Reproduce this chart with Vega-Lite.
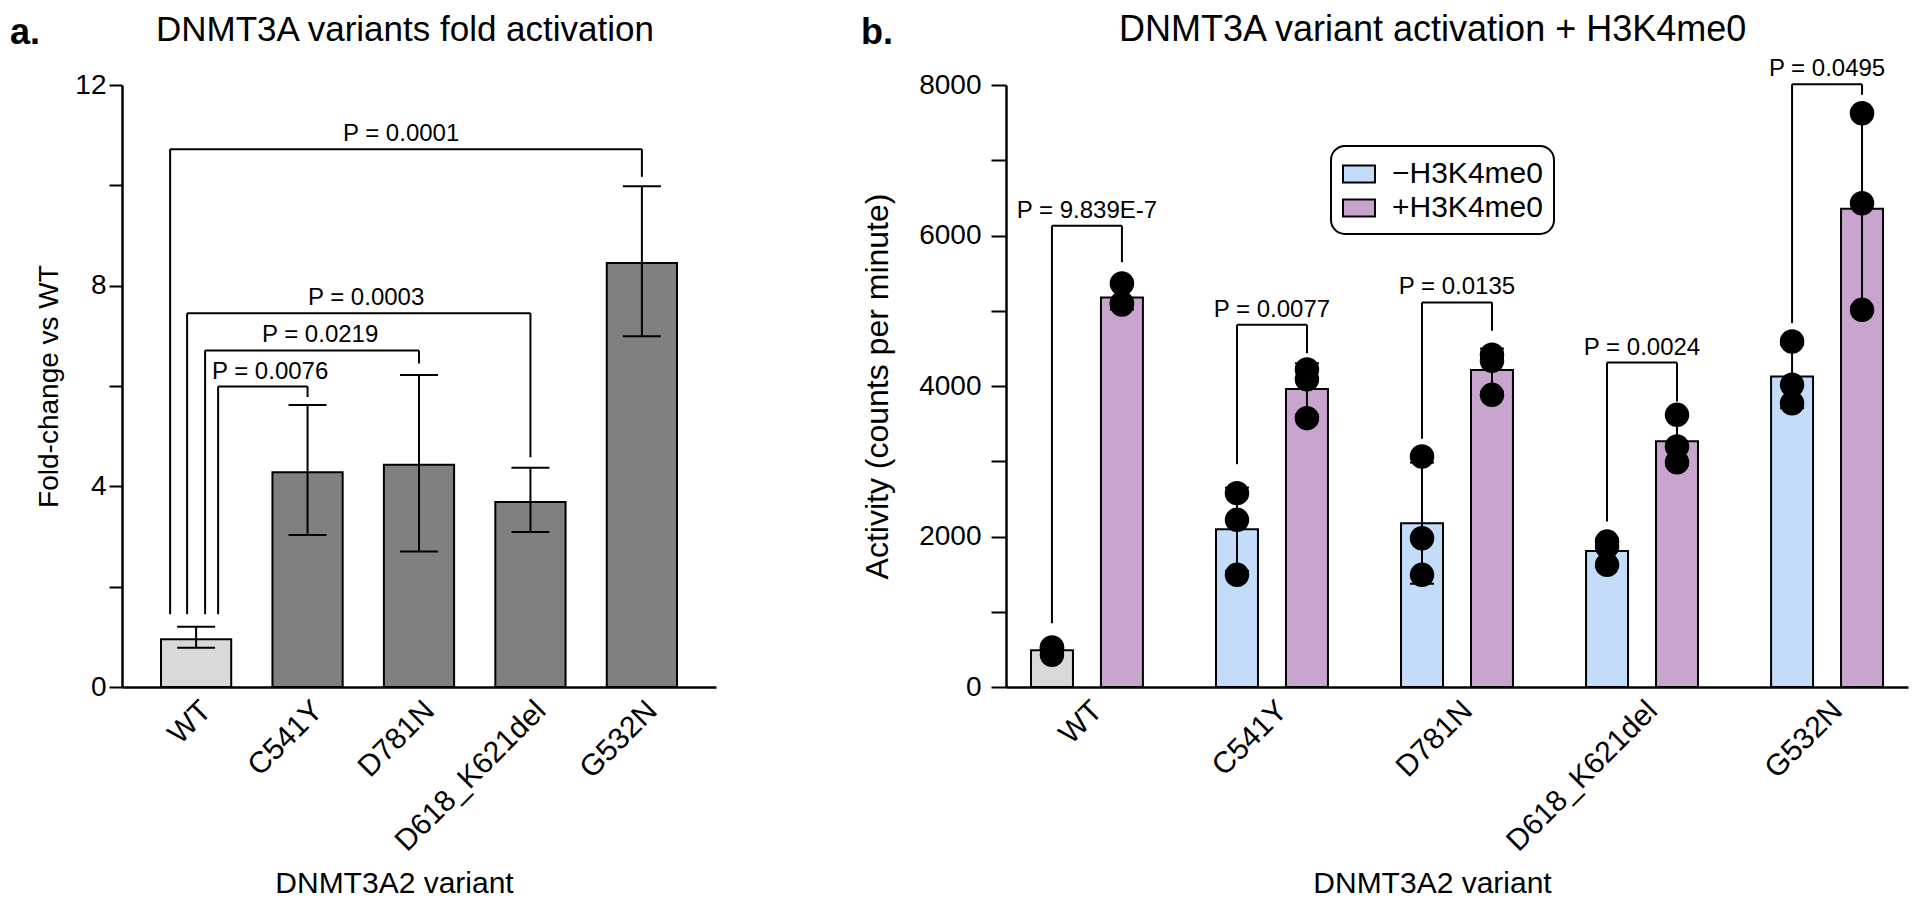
{
  "$schema": "https://vega.github.io/schema/vega-lite/v6.json",
  "background": "white",
  "padding": {"left": 9, "top": 12, "right": 5, "bottom": 0},
  "autosize": {"type": "pad"},
  "spacing": 144,
  "config": {
    "font": "Liberation Sans",
    "view": {"stroke": null},
    "axis": {"domainColor": "black", "domainWidth": 2.5, "tickColor": "black", "tickWidth": 2, "labelColor": "black", "titleColor": "black", "grid": false, "labelFont": "Liberation Sans", "titleFont": "Liberation Sans", "titleFontWeight": "normal"},
    "legend": {"strokeWidth": 2, "titleLimit": 2000},
    "text": {"font": "Liberation Sans"}
  },
  "resolve": {"scale": {"fill": "independent", "color": "independent", "stroke": "independent", "opacity": "independent"}},
  "datasets": {
    "a_bars": [
      {"variant": "WT", "mean": 0.95, "lo": 0.78, "hi": 1.2, "grp": "WT"},
      {"variant": "C541Y", "mean": 4.28, "lo": 3.03, "hi": 5.62, "grp": "variant"},
      {"variant": "D781N", "mean": 4.43, "lo": 2.7, "hi": 6.22, "grp": "variant"},
      {"variant": "D618_K621del", "mean": 3.69, "lo": 3.09, "hi": 4.37, "grp": "variant"},
      {"variant": "G532N", "mean": 8.45, "lo": 6.99, "hi": 9.98, "grp": "variant"}
    ],
    "a_brackets": [
      {"id": 1, "from": "WT", "to": "G532N", "top": 10.72, "left_low": 1.45, "right_low": 10.17, "label": "P = 0.0001"},
      {"id": 2, "from": "WT", "to": "D618_K621del", "top": 7.45, "left_low": 1.45, "right_low": 4.58, "label": "P = 0.0003"},
      {"id": 3, "from": "WT", "to": "D781N", "top": 6.71, "left_low": 1.45, "right_low": 6.45, "label": "P = 0.0219"},
      {"id": 4, "from": "WT", "to": "C541Y", "top": 5.99, "left_low": 1.45, "right_low": 5.78, "label": "P = 0.0076"}
    ],
    "b_bars": [
      {"variant": "WT", "cond": "−", "series": "WT", "mean": 490, "lo": 436, "hi": 544},
      {"variant": "WT", "cond": "+", "series": "+H3K4me0", "mean": 5176, "lo": 5015, "hi": 5337},
      {"variant": "C541Y", "cond": "−", "series": "−H3K4me0", "mean": 2096, "lo": 1543, "hi": 2649},
      {"variant": "C541Y", "cond": "+", "series": "+H3K4me0", "mean": 3960, "lo": 3618, "hi": 4302},
      {"variant": "D781N", "cond": "−", "series": "−H3K4me0", "mean": 2177, "lo": 1372, "hi": 2982},
      {"variant": "D781N", "cond": "+", "series": "+H3K4me0", "mean": 4211, "lo": 3924, "hi": 4498},
      {"variant": "D618_K621del", "cond": "−", "series": "−H3K4me0", "mean": 1808, "lo": 1645, "hi": 1971},
      {"variant": "D618_K621del", "cond": "+", "series": "+H3K4me0", "mean": 3267, "lo": 2946, "hi": 3588},
      {"variant": "G532N", "cond": "−", "series": "−H3K4me0", "mean": 4126, "lo": 3705, "hi": 4547},
      {"variant": "G532N", "cond": "+", "series": "+H3K4me0", "mean": 6355, "lo": 5047, "hi": 7663}
    ],
    "b_points": [
      {"variant": "WT", "cond": "−", "value": 428},
      {"variant": "WT", "cond": "−", "value": 516},
      {"variant": "WT", "cond": "−", "value": 525},
      {"variant": "WT", "cond": "+", "value": 5362},
      {"variant": "WT", "cond": "+", "value": 5083},
      {"variant": "WT", "cond": "+", "value": 5100},
      {"variant": "C541Y", "cond": "−", "value": 2576},
      {"variant": "C541Y", "cond": "−", "value": 2222},
      {"variant": "C541Y", "cond": "−", "value": 1491},
      {"variant": "C541Y", "cond": "+", "value": 4219},
      {"variant": "C541Y", "cond": "+", "value": 4090},
      {"variant": "C541Y", "cond": "+", "value": 3572},
      {"variant": "D781N", "cond": "−", "value": 3063},
      {"variant": "D781N", "cond": "−", "value": 1977},
      {"variant": "D781N", "cond": "−", "value": 1491},
      {"variant": "D781N", "cond": "+", "value": 4415},
      {"variant": "D781N", "cond": "+", "value": 4335},
      {"variant": "D781N", "cond": "+", "value": 3883},
      {"variant": "D618_K621del", "cond": "−", "value": 1933},
      {"variant": "D618_K621del", "cond": "−", "value": 1867},
      {"variant": "D618_K621del", "cond": "−", "value": 1624},
      {"variant": "D618_K621del", "cond": "+", "value": 3617},
      {"variant": "D618_K621del", "cond": "+", "value": 3196},
      {"variant": "D618_K621del", "cond": "+", "value": 2987},
      {"variant": "G532N", "cond": "−", "value": 4591},
      {"variant": "G532N", "cond": "−", "value": 4016},
      {"variant": "G532N", "cond": "−", "value": 3771},
      {"variant": "G532N", "cond": "+", "value": 7625},
      {"variant": "G532N", "cond": "+", "value": 6429},
      {"variant": "G532N", "cond": "+", "value": 5012}
    ],
    "b_brackets": [
      {"variant": "WT", "top": 6130, "left_low": 848, "right_low": 5645, "label": "P = 9.839E-7"},
      {"variant": "C541Y", "top": 4813, "left_low": 2961, "right_low": 4436, "label": "P = 0.0077"},
      {"variant": "D781N", "top": 5110, "left_low": 3300, "right_low": 4734, "label": "P = 0.0135"},
      {"variant": "D618_K621del", "top": 4312, "left_low": 2199, "right_low": 3794, "label": "P = 0.0024"},
      {"variant": "G532N", "top": 8010, "left_low": 4835, "right_low": 7870, "label": "P = 0.0495"}
    ]
  },
  "hconcat": [
    {
      "width": 594,
      "height": 602,
      "layer": [
        {
          "data": {"name": "a_bars"},
          "mark": {"type": "bar", "stroke": "black", "strokeWidth": 2},
          "encoding": {
            "x": {"field": "variant", "type": "nominal", "sort": null,
              "scale": {"domain": ["WT", "C541Y", "D781N", "D618_K621del", "G532N"], "paddingInner": 0.37, "paddingOuter": 0.35},
              "axis": {"title": "DNMT3A2 variant", "titleFontSize": 30, "titlePadding": 12, "titleX": 272, "labelAngle": -45, "labelFontSize": 30, "labelLimit": 0, "ticks": false, "labelPadding": 8}},
            "y": {"field": "mean", "type": "quantitative",
              "scale": {"domain": [0, 12], "nice": false},
              "axis": {"title": "Fold-change vs WT", "titleFontSize": 28, "titlePadding": 11, "labelFontSize": 28, "tickSize": 13, "labelPadding": 3, "values": [0, 2, 4, 6, 8, 10, 12], "labelExpr": "datum.value % 4 === 0 ? datum.label : ''"}},
            "fill": {"field": "grp", "type": "nominal", "scale": {"domain": ["WT", "variant"], "range": ["#d9d9d9", "#808080"]}, "legend": null},
            "stroke": {"datum": "a", "type": "nominal", "scale": {"domain": ["a"], "range": ["black"]},
              "legend": {"title": "a.", "orient": "none", "legendX": -112, "legendY": -69, "titleFontSize": 36, "titleFontWeight": "bold", "titleFont": "Liberation Sans", "titleColor": "black", "titleBaseline": "top", "titlePadding": 0, "padding": 0, "symbolType": "circle", "symbolOpacity": 0, "symbolStrokeWidth": 0, "symbolSize": 0, "symbolFillColor": "transparent", "symbolStrokeColor": "transparent", "labelOpacity": 0, "labelExpr": "''", "labelFontSize": 10, "strokeColor": "transparent", "fillColor": "transparent"}},
            "opacity": {"datum": "t", "type": "nominal", "scale": {"domain": ["t"], "range": [1]},
              "legend": {"title": "DNMT3A variants fold activation", "orient": "none", "legendX": 34, "legendY": -72, "titleFontSize": 35, "titleFontWeight": "normal", "titleFont": "Liberation Sans", "titleColor": "black", "titleBaseline": "top", "titlePadding": 0, "padding": 0, "symbolType": "circle", "symbolOpacity": 0, "symbolStrokeWidth": 0, "symbolSize": 0, "symbolFillColor": "transparent", "symbolStrokeColor": "transparent", "labelOpacity": 0, "labelExpr": "''", "labelFontSize": 10, "strokeColor": "transparent", "fillColor": "transparent"}}
          }
        },
        {
          "data": {"name": "a_bars"},
          "mark": {"type": "rule", "color": "black", "strokeWidth": 2},
          "encoding": {
            "x": {"field": "variant", "type": "nominal", "sort": null},
            "y": {"field": "lo", "type": "quantitative"},
            "y2": {"field": "hi"}
          }
        },
        {
          "data": {"name": "a_bars"},
          "mark": {"type": "tick", "color": "black", "size": 38, "thickness": 2, "opacity": 1},
          "encoding": {
            "x": {"field": "variant", "type": "nominal", "sort": null},
            "y": {"field": "lo", "type": "quantitative"}
          }
        },
        {
          "data": {"name": "a_bars"},
          "mark": {"type": "tick", "color": "black", "size": 38, "thickness": 2, "opacity": 1},
          "encoding": {
            "x": {"field": "variant", "type": "nominal", "sort": null},
            "y": {"field": "hi", "type": "quantitative"}
          }
        },
        {
          "data": {"name": "a_brackets"},
          "transform": [{"filter": "datum.id === 1"}],
          "layer": [
            {"mark": {"type": "rule", "color": "black", "strokeWidth": 2, "xOffset": -26},
             "encoding": {"x": {"field": "from", "type": "nominal", "bandPosition": 0.5}, "x2": {"field": "to", "bandPosition": 0.5}, "y": {"field": "top", "type": "quantitative"}}},
            {"mark": {"type": "rule", "color": "black", "strokeWidth": 2, "xOffset": -26},
             "encoding": {"x": {"field": "from", "type": "nominal", "bandPosition": 0.5}, "y": {"field": "left_low", "type": "quantitative"}, "y2": {"field": "top"}}},
            {"mark": {"type": "rule", "color": "black", "strokeWidth": 2},
             "encoding": {"x": {"field": "to", "type": "nominal", "bandPosition": 0.5}, "y": {"field": "right_low", "type": "quantitative"}, "y2": {"field": "top"}}},
            {"mark": {"type": "text", "fontSize": 24, "baseline": "alphabetic", "align": "center", "dy": -8, "dx": 205, "color": "black"},
             "encoding": {"x": {"field": "from", "type": "nominal", "bandPosition": 0.5}, "y": {"field": "top", "type": "quantitative"}, "text": {"field": "label"}}}
          ]
        },
        {
          "data": {"name": "a_brackets"},
          "transform": [{"filter": "datum.id === 2"}],
          "layer": [
            {"mark": {"type": "rule", "color": "black", "strokeWidth": 2, "xOffset": -9},
             "encoding": {"x": {"field": "from", "type": "nominal", "bandPosition": 0.5}, "x2": {"field": "to", "bandPosition": 0.5}, "y": {"field": "top", "type": "quantitative"}}},
            {"mark": {"type": "rule", "color": "black", "strokeWidth": 2, "xOffset": -9},
             "encoding": {"x": {"field": "from", "type": "nominal", "bandPosition": 0.5}, "y": {"field": "left_low", "type": "quantitative"}, "y2": {"field": "top"}}},
            {"mark": {"type": "rule", "color": "black", "strokeWidth": 2},
             "encoding": {"x": {"field": "to", "type": "nominal", "bandPosition": 0.5}, "y": {"field": "right_low", "type": "quantitative"}, "y2": {"field": "top"}}},
            {"mark": {"type": "text", "fontSize": 24, "baseline": "alphabetic", "align": "center", "dy": -8, "dx": 170, "color": "black"},
             "encoding": {"x": {"field": "from", "type": "nominal", "bandPosition": 0.5}, "y": {"field": "top", "type": "quantitative"}, "text": {"field": "label"}}}
          ]
        },
        {
          "data": {"name": "a_brackets"},
          "transform": [{"filter": "datum.id === 3"}],
          "layer": [
            {"mark": {"type": "rule", "color": "black", "strokeWidth": 2, "xOffset": 9},
             "encoding": {"x": {"field": "from", "type": "nominal", "bandPosition": 0.5}, "x2": {"field": "to", "bandPosition": 0.5}, "y": {"field": "top", "type": "quantitative"}}},
            {"mark": {"type": "rule", "color": "black", "strokeWidth": 2, "xOffset": 9},
             "encoding": {"x": {"field": "from", "type": "nominal", "bandPosition": 0.5}, "y": {"field": "left_low", "type": "quantitative"}, "y2": {"field": "top"}}},
            {"mark": {"type": "rule", "color": "black", "strokeWidth": 2},
             "encoding": {"x": {"field": "to", "type": "nominal", "bandPosition": 0.5}, "y": {"field": "right_low", "type": "quantitative"}, "y2": {"field": "top"}}},
            {"mark": {"type": "text", "fontSize": 24, "baseline": "alphabetic", "align": "center", "dy": -8, "dx": 124, "color": "black"},
             "encoding": {"x": {"field": "from", "type": "nominal", "bandPosition": 0.5}, "y": {"field": "top", "type": "quantitative"}, "text": {"field": "label"}}}
          ]
        },
        {
          "data": {"name": "a_brackets"},
          "transform": [{"filter": "datum.id === 4"}],
          "layer": [
            {"mark": {"type": "rule", "color": "black", "strokeWidth": 2, "xOffset": 22},
             "encoding": {"x": {"field": "from", "type": "nominal", "bandPosition": 0.5}, "x2": {"field": "to", "bandPosition": 0.5}, "y": {"field": "top", "type": "quantitative"}}},
            {"mark": {"type": "rule", "color": "black", "strokeWidth": 2, "xOffset": 22},
             "encoding": {"x": {"field": "from", "type": "nominal", "bandPosition": 0.5}, "y": {"field": "left_low", "type": "quantitative"}, "y2": {"field": "top"}}},
            {"mark": {"type": "rule", "color": "black", "strokeWidth": 2},
             "encoding": {"x": {"field": "to", "type": "nominal", "bandPosition": 0.5}, "y": {"field": "right_low", "type": "quantitative"}, "y2": {"field": "top"}}},
            {"mark": {"type": "text", "fontSize": 24, "baseline": "alphabetic", "align": "center", "dy": -8, "dx": 74, "color": "black"},
             "encoding": {"x": {"field": "from", "type": "nominal", "bandPosition": 0.5}, "y": {"field": "top", "type": "quantitative"}, "text": {"field": "label"}}}
          ]
        }
      ]
    },
    {
      "width": 902,
      "height": 602,
      "layer": [
        {
          "data": {"name": "b_bars"},
          "mark": {"type": "bar", "stroke": "black", "strokeWidth": 2},
          "encoding": {
            "x": {"field": "variant", "type": "nominal", "sort": null,
              "scale": {"domain": ["WT", "C541Y", "D781N", "D618_K621del", "G532N"], "paddingInner": 0.395, "paddingOuter": 0.135},
              "axis": {"title": "DNMT3A2 variant", "titleFontSize": 30, "titlePadding": 12, "titleX": 426, "labelAngle": -45, "labelFontSize": 30, "labelLimit": 0, "ticks": false, "labelPadding": 8}},
            "xOffset": {"field": "cond", "type": "nominal", "sort": null, "scale": {"domain": ["−", "+"], "paddingInner": 0.4, "paddingOuter": 0}},
            "y": {"field": "mean", "type": "quantitative",
              "scale": {"domain": [0, 8000], "nice": false},
              "axis": {"title": "Activity (counts per minute)", "titleFontSize": 32, "titlePadding": 24, "labelFontSize": 28, "tickSize": 15, "labelPadding": 10, "format": "d", "values": [0, 1000, 2000, 3000, 4000, 5000, 6000, 7000, 8000], "labelExpr": "datum.value % 2000 === 0 ? datum.label : ''"}},
            "fill": {"field": "series", "type": "nominal",
              "scale": {"domain": ["−H3K4me0", "+H3K4me0", "WT"], "range": ["#c2dcfa", "#c8a4cf", "#d9d9d9"]},
              "legend": {"values": ["−H3K4me0", "+H3K4me0"], "orient": "none", "legendX": 325, "legendY": 61, "title": null, "direction": "vertical",
                "symbolType": "M-1,-0.53H1V0.53H-1Z", "symbolSize": 1024, "symbolStrokeColor": "black", "symbolStrokeWidth": 2, "symbolOpacity": 1,
                "labelFontSize": 30, "labelFont": "Liberation Sans", "labelColor": "black", "labelOffset": 16,
                "fillColor": "white", "strokeColor": "black", "padding": 11, "cornerRadius": 14, "rowPadding": 2}},
            "stroke": {"datum": "b", "type": "nominal", "scale": {"domain": ["b"], "range": ["black"]},
              "legend": {"title": "b.", "orient": "none", "legendX": -145, "legendY": -69, "titleFontSize": 36, "titleFontWeight": "bold", "titleFont": "Liberation Sans", "titleColor": "black", "titleBaseline": "top", "titlePadding": 0, "padding": 0, "symbolType": "circle", "symbolOpacity": 0, "symbolStrokeWidth": 0, "symbolSize": 0, "symbolFillColor": "transparent", "symbolStrokeColor": "transparent", "labelOpacity": 0, "labelExpr": "''", "labelFontSize": 10, "strokeColor": "transparent", "fillColor": "transparent"}},
            "opacity": {"datum": "t", "type": "nominal", "scale": {"domain": ["t"], "range": [1]},
              "legend": {"title": "DNMT3A variant activation + H3K4me0", "orient": "none", "legendX": 113, "legendY": -72, "titleFontSize": 36, "titleFontWeight": "normal", "titleFont": "Liberation Sans", "titleColor": "black", "titleBaseline": "top", "titlePadding": 0, "padding": 0, "symbolType": "circle", "symbolOpacity": 0, "symbolStrokeWidth": 0, "symbolSize": 0, "symbolFillColor": "transparent", "symbolStrokeColor": "transparent", "labelOpacity": 0, "labelExpr": "''", "labelFontSize": 10, "strokeColor": "transparent", "fillColor": "transparent"}}
          }
        },
        {
          "data": {"name": "b_bars"},
          "mark": {"type": "rule", "color": "black", "strokeWidth": 2},
          "encoding": {
            "x": {"field": "variant", "type": "nominal", "sort": null},
            "xOffset": {"field": "cond", "type": "nominal", "sort": null},
            "y": {"field": "lo", "type": "quantitative"},
            "y2": {"field": "hi"}
          }
        },
        {
          "data": {"name": "b_bars"},
          "mark": {"type": "tick", "color": "black", "size": 24, "thickness": 2, "opacity": 1},
          "encoding": {
            "x": {"field": "variant", "type": "nominal", "sort": null},
            "xOffset": {"field": "cond", "type": "nominal", "sort": null},
            "y": {"field": "lo", "type": "quantitative"}
          }
        },
        {
          "data": {"name": "b_bars"},
          "mark": {"type": "tick", "color": "black", "size": 24, "thickness": 2, "opacity": 1},
          "encoding": {
            "x": {"field": "variant", "type": "nominal", "sort": null},
            "xOffset": {"field": "cond", "type": "nominal", "sort": null},
            "y": {"field": "hi", "type": "quantitative"}
          }
        },
        {
          "data": {"name": "b_points"},
          "mark": {"type": "point", "filled": true, "color": "black", "size": 600, "opacity": 1},
          "encoding": {
            "x": {"field": "variant", "type": "nominal", "sort": null},
            "xOffset": {"field": "cond", "type": "nominal", "sort": null},
            "y": {"field": "value", "type": "quantitative"}
          }
        },
        {
          "data": {"name": "b_brackets"},
          "layer": [
            {"mark": {"type": "rule", "color": "black", "strokeWidth": 2, "xOffset": -35, "x2Offset": 35},
             "encoding": {"x": {"field": "variant", "type": "nominal", "bandPosition": 0.5}, "x2": {"field": "variant", "bandPosition": 0.5}, "y": {"field": "top", "type": "quantitative"}}},
            {"mark": {"type": "rule", "color": "black", "strokeWidth": 2, "xOffset": -35},
             "encoding": {"x": {"field": "variant", "type": "nominal", "bandPosition": 0.5}, "y": {"field": "left_low", "type": "quantitative"}, "y2": {"field": "top"}}},
            {"mark": {"type": "rule", "color": "black", "strokeWidth": 2, "xOffset": 35},
             "encoding": {"x": {"field": "variant", "type": "nominal", "bandPosition": 0.5}, "y": {"field": "right_low", "type": "quantitative"}, "y2": {"field": "top"}}},
            {"mark": {"type": "text", "fontSize": 24, "baseline": "alphabetic", "align": "center", "dy": -8, "color": "black"},
             "encoding": {"x": {"field": "variant", "type": "nominal", "bandPosition": 0.5}, "y": {"field": "top", "type": "quantitative"}, "text": {"field": "label"}}}
          ]
        }
      ]
    }
  ]
}
